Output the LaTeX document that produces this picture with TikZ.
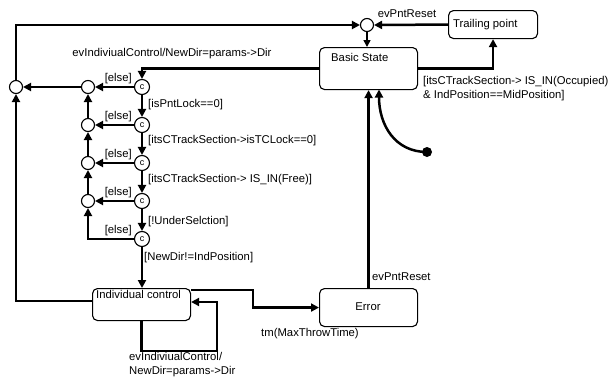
\documentclass[tikz,border=0pt]{standalone}
\usepackage{fontspec}
\setmainfont{Liberation Sans}
\usetikzlibrary{arrows.meta,calc}
\begin{document}
\begin{tikzpicture}[x=1pt,y=-1pt,
  state/.style={draw, rounded corners=5pt, line width=1.1pt, inner sep=0pt, anchor=north west},
  tr/.style={line width=2.5pt, -{Triangle[length=8pt,width=8pt]}},
  thin tr/.style={line width=1.6pt, -{Triangle[length=7pt,width=7pt]}},
  cond/.style={circle, draw, line width=1.1pt, minimum size=15pt, inner sep=0pt, fill=white, font=\fontsize{9}{9}\selectfont},
  junc/.style={circle, draw, line width=1.1pt, minimum size=13pt, inner sep=0pt, fill=white},
  lbl/.style={font=\fontsize{11.3}{14}\selectfont, inner sep=0pt, align=left}
]
\useasboundingbox (0,0) rectangle (614,378);

% states
\node[state, minimum width=98pt, minimum height=42pt] (bs) at (319,47) {};
\node[state, minimum width=89pt, minimum height=28pt] (tp) at (448,10) {};
\node[state, minimum width=98pt, minimum height=38pt] (er) at (319,288) {};
\node[state, minimum width=98pt, minimum height=32pt] (ic) at (92,288) {};
\node[lbl, anchor=west] (bst) at (331,57) {Basic State};
\node[lbl, anchor=west] (tpt) at (453,25) {Trailing point};
\node[lbl] (ert) at (368,307) {Error};
\node[lbl, anchor=west] (ict) at (96,294) {Individual control};

% junctions and conditions
\node[junc] (tj) at (367,25) {};
\node[junc] (lj) at (16,87) {};
\node[junc] (j1) at (88,87) {};
\node[junc] (j2) at (88,125) {};
\node[junc] (j3) at (88,163) {};
\node[junc] (j4) at (88,201) {};
\node[cond] (c1) at (142,87) {c};
\node[cond] (c2) at (142,125) {c};
\node[cond] (c3) at (142,163) {c};
\node[cond] (c4) at (142,201) {c};
\node[cond] (c5) at (142,239) {c};
\fill (427,152) circle (5pt);
\coordinate (initc) at (427,152);

% connectors
\draw[tr] ($(ic.north west)+(0,13)$) -| (lj.south);
\draw[tr] (lj.north) |- (tj.west);
\draw[thin tr] (tj.south) -- (bs.north -| tj.south);
\draw[tr] (tp.west) -- (tj.east);
\draw[tr] (bs.east) -| (tp.south);
\draw[tr] (bs.west) -| (c1.north);
\draw[tr] (c1) -- (c2);
\draw[tr] (c2) -- (c3);
\draw[tr] (c3) -- (c4);
\draw[tr] (c4) -- (c5);
\draw[tr] (c1) -- (j1);
\draw[tr] (c2) -- (j2);
\draw[tr] (c3) -- (j3);
\draw[tr] (c4) -- (j4);
\draw[tr] (c5.west) -| (j4.south);
\draw[tr] (j4) -- (j3);
\draw[tr] (j3) -- (j2);
\draw[tr] (j2) -- (j1);
\draw[tr] (j1) -- (lj);
\draw[tr] (c5.south) -- (ic.north -| c5.south);
\draw[tr] ($(ic.north east)+(0,2)$) -- (253,290) |- (er.west);
\draw[tr] (ic.south) |- (217,351) |- ($(ic.north east)+(0,14)$);
\draw[tr] (er.north) -- (bs.south -| er.north);
\draw[tr] (initc) .. controls (395,152) and (379,125) .. (379,89.5);

% labels
\node[lbl] (l1) at (172,54) {evIndiviualControl/NewDir=params->Dir};
\node[lbl] (l2) at (407,14) {evPntReset};
\node[lbl, anchor=west] (l3) at (423,89) {[itsCTrackSection-> IS\_IN(Occupied)\\\& IndPosition==MidPosition]};
\node[lbl, anchor=east] (e1) at (132,79) {[else]};
\node[lbl, anchor=east] (e2) at (132,117) {[else]};
\node[lbl, anchor=east] (e3) at (132,155) {[else]};
\node[lbl, anchor=east] (e4) at (132,193) {[else]};
\node[lbl, anchor=east] (e5) at (132,231) {[else]};
\node[lbl, anchor=west] (g1) at (148,105) {[isPntLock==0]};
\node[lbl, anchor=west] (g2) at (148,141) {[itsCTrackSection->isTCLock==0]};
\node[lbl, anchor=west] (g3) at (148,180) {[itsCTrackSection-> IS\_IN(Free)]};
\node[lbl, anchor=west] (g4) at (148,222) {[!UnderSelction]};
\node[lbl, anchor=west] (g5) at (144,258) {[NewDir!=IndPosition]};
\node[lbl, anchor=west] (l4) at (372,277) {evPntReset};
\node[lbl] (l5) at (310,334) {tm(MaxThrowTime)};
\node[lbl, anchor=west] (l6) at (129,365) {evIndiviualControl/\\NewDir=params->Dir};
\end{tikzpicture}
\end{document}
